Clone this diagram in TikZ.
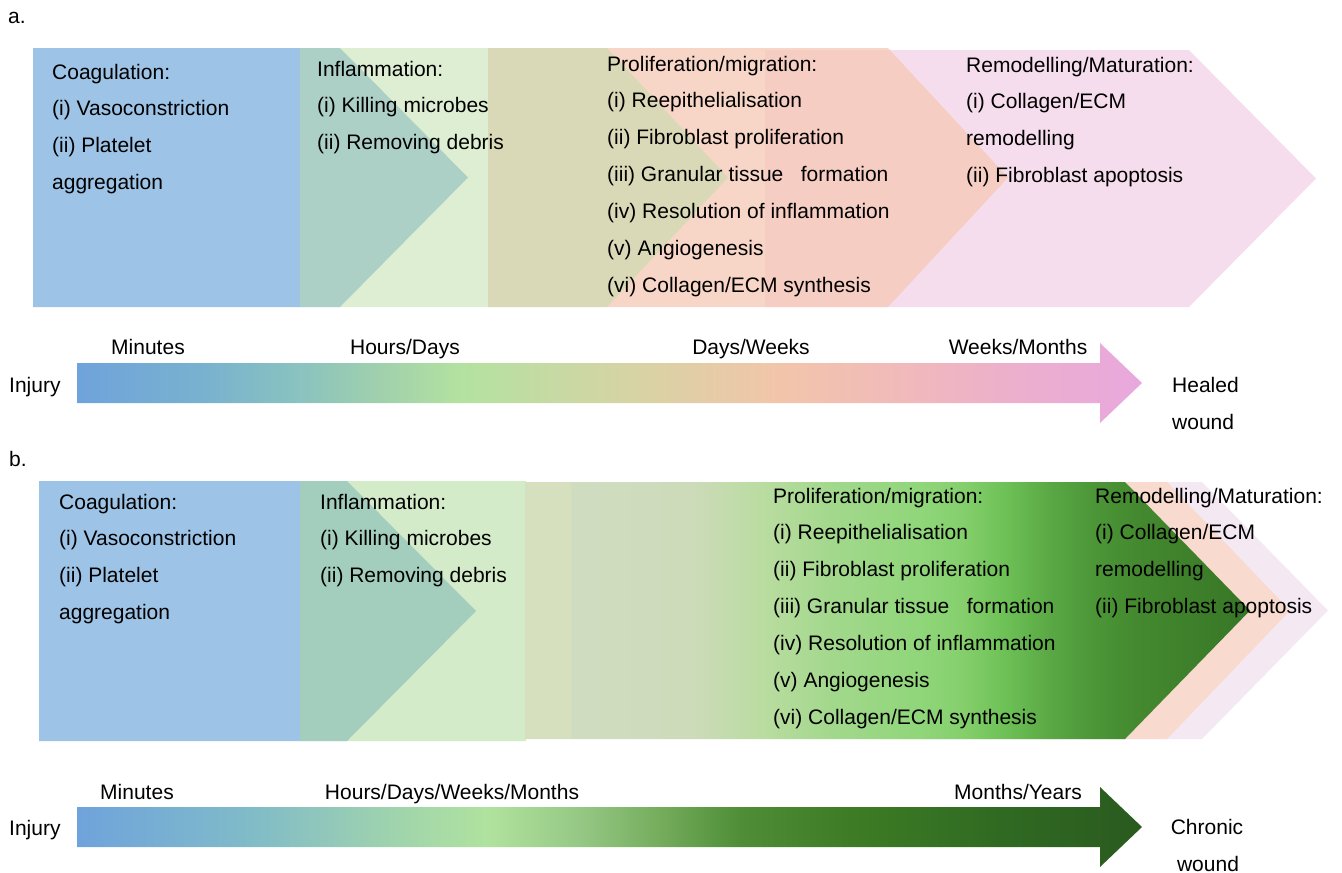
\documentclass[tikz,border=0pt]{standalone}
\usepackage{fontspec}
\setmainfont{Liberation Sans}
\usetikzlibrary{positioning}

\definecolor{coagblue}{RGB}{157,195,230}
\definecolor{inflgreen}{RGB}{190,222,168}
\definecolor{prolsalmon}{RGB}{245,200,180}
\definecolor{remodpink}{RGB}{246,221,237}
\definecolor{inflgreenb}{RGB}{170,215,150}
\definecolor{prolsalmonb}{RGB}{248,218,206}
\definecolor{remodpinkb}{RGB}{244,232,243}

\definecolor{ha0}{HTML}{6FA3DC}
\definecolor{ha1}{HTML}{78B1CF}
\definecolor{ha2}{HTML}{8AC3BF}
\definecolor{ha3}{HTML}{A0D0AC}
\definecolor{ha4}{HTML}{B3E2A0}
\definecolor{ha5}{HTML}{C8D9A4}
\definecolor{ha6}{HTML}{DCD1A5}
\definecolor{ha7}{HTML}{F2C5AA}
\definecolor{ha8}{HTML}{F1BABA}
\definecolor{ha9}{HTML}{EDB0CA}
\definecolor{ha10}{HTML}{E8A8DE}

\definecolor{cb0}{HTML}{6FA3DC}
\definecolor{cb1}{HTML}{80BBC8}
\definecolor{cb2}{HTML}{92C8BA}
\definecolor{cb3}{HTML}{A4D8A8}
\definecolor{cb4}{HTML}{B0E29E}
\definecolor{cb5}{HTML}{96C885}
\definecolor{cb6}{HTML}{74AC5C}
\definecolor{cb7}{HTML}{4F8E37}
\definecolor{cb8}{HTML}{3D7C24}
\definecolor{cb9}{HTML}{306A22}
\definecolor{cb10}{HTML}{2A5A1F}

\definecolor{pb0}{HTML}{D6E0BE}
\definecolor{pb1}{HTML}{D0DCC0}
\definecolor{pb2}{HTML}{CDDBBA}
\definecolor{pb3}{HTML}{B9DCA0}
\definecolor{pb4}{HTML}{A2D88C}
\definecolor{pb5}{HTML}{90D67A}
\definecolor{pb6}{HTML}{84CF6C}
\definecolor{pb7}{HTML}{6CC055}
\definecolor{pb8}{HTML}{5AA845}
\definecolor{pb9}{HTML}{4C9638}
\definecolor{pb10}{HTML}{44892F}
\definecolor{pb11}{HTML}{3A7A28}
\definecolor{pb12}{HTML}{377526}

\pgfdeclarehorizontalshading{healbar}{100bp}{color(0bp)=(ha0); color(25bp)=(ha0);
  color(30.8bp)=(ha1); color(35.5bp)=(ha2); color(39.2bp)=(ha3); color(43bp)=(ha4);
  color(47.7bp)=(ha5); color(52.4bp)=(ha6); color(58bp)=(ha7); color(63.6bp)=(ha8);
  color(68.3bp)=(ha9); color(75bp)=(ha10); color(100bp)=(ha10)}
\pgfdeclarehorizontalshading{chronicbar}{100bp}{color(0bp)=(cb0); color(25bp)=(cb0);
  color(33.1bp)=(cb1); color(36.9bp)=(cb2); color(41.1bp)=(cb3); color(44.4bp)=(cb4);
  color(48.6bp)=(cb5); color(52.4bp)=(cb6); color(56.1bp)=(cb7); color(61.3bp)=(cb8);
  color(68.3bp)=(cb9); color(75bp)=(cb10); color(100bp)=(cb10)}
\pgfdeclarehorizontalshading{prolifb}{100bp}{color(0bp)=(pb0); color(25bp)=(pb0);
  color(28.1bp)=(pb0); color(28.2bp)=(pb1); color(36.4bp)=(pb2); color(41.5bp)=(pb3);
  color(46.2bp)=(pb4); color(52.2bp)=(pb5); color(55.3bp)=(pb6); color(58.2bp)=(pb7);
  color(61.2bp)=(pb8); color(64.2bp)=(pb9); color(67.2bp)=(pb10); color(73.2bp)=(pb11);
  color(75bp)=(pb12); color(100bp)=(pb12)}

\newcommand{\phaseshape}[6]{\path[#1] (#2,#5) -- (#3,#5) -- ({#3+#4},{(#5+#6)/2}) -- (#3,#6) -- (#2,#6) -- cycle;}
\newcommand{\timearrow}[2]{\shade[shading=#1] (77,{#2-20}) -- (1100,{#2-20}) -- (1100,{#2-40}) -- (1142,#2) -- (1100,{#2+40}) -- (1100,{#2+20}) -- (77,{#2+20}) -- cycle;}
\newcommand{\phasetext}[4]{\foreach \ln [count=\k] in {#4} \node[phaseline] (#1\k) at (#2,{#3+(\k-1)*36.9}) {\ln};}

\begin{document}
\begin{tikzpicture}[x=1pt,y=-1pt,
  phaseline/.style={anchor=base west,inner sep=0pt,font=\fontsize{21}{25}\selectfont},
  timelabel/.style={anchor=base,inner sep=0pt,font=\fontsize{21}{25}\selectfont},
  endlabel/.style={anchor=base west,inner sep=0pt,font=\fontsize{21}{25}\selectfont}]

\useasboundingbox (0,0) rectangle (1342,873);

\phaseshape{fill=remodpink}{765}{1189}{127}{50}{307}
\phaseshape{fill=prolsalmon,fill opacity=0.75}{488}{888}{120}{48}{307}
\phaseshape{fill=coagblue}{33}{340}{128}{48}{307}
\phaseshape{fill=inflgreen,fill opacity=0.5}{300}{607}{121}{48}{307}

\node[endlabel] (panela) at (8,23) {a.};
\phasetext{coaga}{52}{79}{Coagulation:,{(i) Vasoconstriction},{(ii) Platelet},aggregation}
\phasetext{infla}{317}{76}{Inflammation:,{(i) Killing microbes},{(ii) Removing debris}}
\phasetext{prola}{607}{71}{Proliferation/migration:,{(i) Reepithelialisation},{(ii) Fibroblast proliferation},{(iii) Granular tissue\ \ \ formation},{(iv) Resolution of inflammation},{(v) Angiogenesis},{(vi) Collagen/ECM synthesis}}
\phasetext{remoda}{966}{72}{Remodelling/Maturation:,{(i) Collagen/ECM},remodelling,{(ii) Fibroblast apoptosis}}

\timearrow{healbar}{383}
\node[timelabel] (mina) at (148,354) {Minutes};
\node[timelabel] (hoursa) at (405,354) {Hours/Days};
\node[timelabel] (daysa) at (751,354) {Days/Weeks};
\node[timelabel] (weeksa) at (1018,354) {Weeks/Months};
\node[endlabel] (injurya) at (9,392) {Injury};
\node[endlabel] (healed) at (1172,392) {Healed};
\node[endlabel] (wounda) at (1172,429) {wound};

\phaseshape{fill=remodpinkb}{900}{1202}{126}{482}{739}
\phaseshape{fill=prolsalmonb}{880}{1167}{123}{482}{739}
\phaseshape{fill=coagblue}{39}{347}{129}{481}{741}
\phaseshape{fill=inflgreenb,fill opacity=0.5}{300}{526}{0}{481}{741}
\phaseshape{shade,shading=prolifb}{525}{1125}{125}{482}{739}

\node[endlabel] (panelb) at (9,466) {b.};
\phasetext{coagb}{59}{509}{Coagulation:,{(i) Vasoconstriction},{(ii) Platelet},aggregation}
\phasetext{inflb}{320}{509}{Inflammation:,{(i) Killing microbes},{(ii) Removing debris}}
\phasetext{prolb}{773}{503}{Proliferation/migration:,{(i) Reepithelialisation},{(ii) Fibroblast proliferation},{(iii) Granular tissue\ \ \ formation},{(iv) Resolution of inflammation},{(v) Angiogenesis},{(vi) Collagen/ECM synthesis}}
\phasetext{remodb}{1095}{503}{Remodelling/Maturation:,{(i) Collagen/ECM},remodelling,{(ii) Fibroblast apoptosis}}

\timearrow{chronicbar}{827}
\node[timelabel] (minb) at (137,799) {Minutes};
\node[timelabel] (hoursb) at (452,799) {Hours/Days/Weeks/Months};
\node[timelabel] (monthsb) at (1018,799) {Months/Years};
\node[endlabel] (injuryb) at (9,835) {Injury};
\node[timelabel] (chronic) at (1207,834) {Chronic};
\node[timelabel] (woundb) at (1208,871) {wound};

\end{tikzpicture}
\end{document}
